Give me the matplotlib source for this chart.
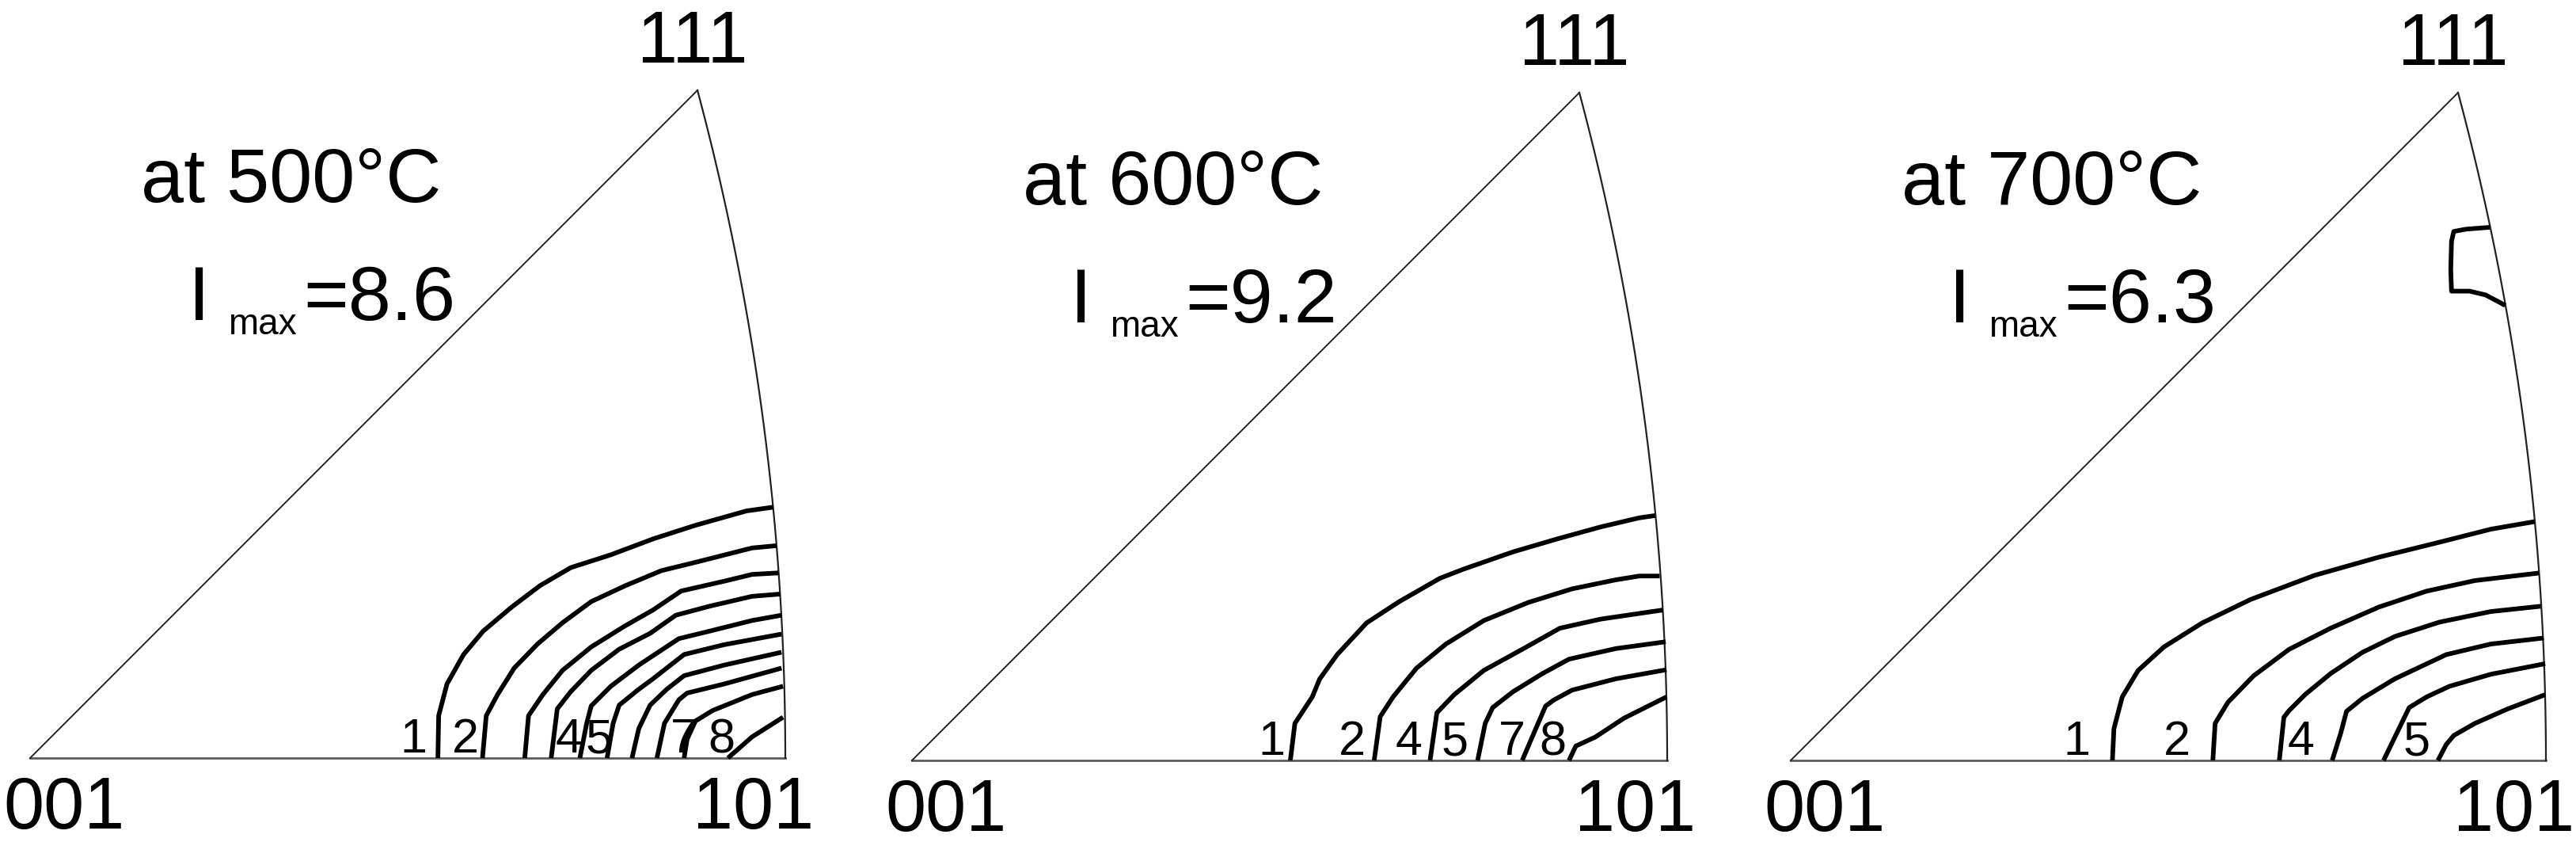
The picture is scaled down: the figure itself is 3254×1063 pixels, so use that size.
import numpy as np
from matplotlib import pyplot as plt

plt.rcParams['font.family'] = ['Liberation Sans', 'DejaVu Sans']

# panel headers
temps = ['500', '600', '700']
imax = ['8.6', '9.2', '6.3']

# contour lines, coordinates as fraction of the 001-101 edge (u along base, v up)
c500 = [
    ([0.540, 0.541, 0.552, 0.574, 0.600, 0.638, 0.675, 0.716, 0.769, 0.825, 0.881, 0.9485, 0.984],
     [0.000, 0.056, 0.098, 0.137, 0.168, 0.200, 0.228, 0.252, 0.269, 0.290, 0.308, 0.327, 0.332]),
    ([0.599, 0.604, 0.619, 0.641, 0.672, 0.705, 0.743, 0.788, 0.836, 0.881, 0.956, 0.988],
     [0.000, 0.056, 0.084, 0.119, 0.151, 0.179, 0.207, 0.228, 0.248, 0.259, 0.278, 0.281]),
    ([0.655, 0.660, 0.679, 0.705, 0.743, 0.788, 0.825, 0.862, 0.919, 0.956, 0.991],
     [0.000, 0.056, 0.084, 0.116, 0.147, 0.175, 0.196, 0.221, 0.234, 0.243, 0.245]),
    ([0.690, 0.698, 0.716, 0.743, 0.780, 0.821, 0.855, 0.900, 0.956, 0.993],
     [0.000, 0.065, 0.088, 0.116, 0.144, 0.165, 0.189, 0.201, 0.214, 0.217]),
    ([0.728, 0.737, 0.743, 0.769, 0.806, 0.859, 0.900, 0.956, 0.995],
     [0.000, 0.046, 0.069, 0.095, 0.123, 0.158, 0.168, 0.182, 0.189]),
    ([0.764, 0.772, 0.780, 0.806, 0.825, 0.866, 0.919, 0.995],
     [0.000, 0.046, 0.070, 0.091, 0.105, 0.137, 0.150, 0.164]),
    ([0.797, 0.806, 0.821, 0.843, 0.866, 0.919, 0.995],
     [0.000, 0.039, 0.070, 0.091, 0.109, 0.123, 0.140]),
    ([0.830, 0.840, 0.859, 0.870, 0.919, 0.995],
     [0.000, 0.046, 0.077, 0.086, 0.098, 0.119]),
    ([0.866, 0.870, 0.881, 0.904, 0.956, 0.997],
     [0.000, 0.025, 0.049, 0.063, 0.084, 0.095]),
    ([0.924, 0.956, 0.997],
     [0.000, 0.028, 0.054]),
]

c600 = [
    ([0.501, 0.507, 0.530, 0.540, 0.563, 0.602, 0.645, 0.699, 0.730, 0.796, 0.854, 0.912, 0.963, 0.984],
     [0.000, 0.049, 0.084, 0.108, 0.140, 0.182, 0.210, 0.241, 0.253, 0.276, 0.293, 0.309, 0.321, 0.324]),
    ([0.612, 0.620, 0.637, 0.668, 0.707, 0.757, 0.816, 0.874, 0.932, 0.963, 0.990],
     [0.000, 0.058, 0.084, 0.122, 0.154, 0.185, 0.209, 0.227, 0.239, 0.244, 0.244]),
    ([0.686, 0.695, 0.718, 0.757, 0.808, 0.858, 0.912, 0.994],
     [0.000, 0.063, 0.087, 0.119, 0.147, 0.175, 0.187, 0.199]),
    ([0.749, 0.759, 0.769, 0.796, 0.835, 0.870, 0.932, 0.998],
     [0.000, 0.049, 0.070, 0.091, 0.115, 0.134, 0.148, 0.157]),
    ([0.808, 0.823, 0.839, 0.850, 0.874, 0.932, 0.999],
     [0.000, 0.035, 0.072, 0.080, 0.093, 0.108, 0.120]),
    ([0.870, 0.879, 0.905, 0.943, 0.999],
     [0.000, 0.019, 0.031, 0.056, 0.084]),
]

c700 = [
    ([0.426, 0.428, 0.439, 0.460, 0.494, 0.545, 0.609, 0.694, 0.779, 0.864, 0.927, 0.985],
     [0.000, 0.042, 0.084, 0.119, 0.150, 0.182, 0.213, 0.245, 0.269, 0.290, 0.306, 0.316]),
    ([0.559, 0.562, 0.579, 0.613, 0.660, 0.715, 0.779, 0.842, 0.906, 0.991],
     [0.000, 0.049, 0.077, 0.112, 0.147, 0.175, 0.203, 0.224, 0.238, 0.248]),
    ([0.647, 0.653, 0.660, 0.681, 0.715, 0.757, 0.800, 0.859, 0.927, 0.993],
     [0.000, 0.057, 0.066, 0.087, 0.115, 0.143, 0.164, 0.183, 0.197, 0.204]),
    ([0.717, 0.728, 0.736, 0.757, 0.800, 0.868, 0.927, 0.997],
     [0.000, 0.035, 0.065, 0.082, 0.108, 0.140, 0.154, 0.162]),
    ([0.785, 0.802, 0.819, 0.842, 0.872, 0.927, 0.999],
     [0.000, 0.035, 0.070, 0.084, 0.098, 0.114, 0.128]),
    ([0.857, 0.868, 0.878, 0.906, 0.949, 0.999],
     [0.000, 0.021, 0.033, 0.049, 0.068, 0.087]),
    # small closed-off region near 111-101 edge
    ([0.926, 0.894, 0.878, 0.875, 0.874, 0.875, 0.899, 0.920, 0.939, 0.946],
     [0.7055, 0.703, 0.700, 0.687, 0.650, 0.621, 0.621, 0.616, 0.606, 0.602]),
]
contours = [c500, c600, c700]

# contour level labels
lab_text = [['1', '2', '4', '5', '7', '8'],
            ['1', '2', '4', '5', '7', '8'],
            ['1', '2', '4', '5']]
lab_u = [[0.508, 0.576, 0.713, 0.753, 0.866, 0.915],
         [0.476, 0.583, 0.658, 0.719, 0.794, 0.848],
         [0.379, 0.511, 0.676, 0.829]]

# panel placement in pixels: 001 corner x, baseline y
W, H = 3255, 1063
x0 = [38, 1152, 2262]
yb = [957, 960, 960]
base = 954

# 111 pole in units of the 001-101 edge (stereographic projection)
apex = (np.sqrt(3) - 1) / (2 * (np.sqrt(2) - 1))
# 111-101 great circle
R = 2 + np.sqrt(2)
cx = -(1 + np.sqrt(2))

fig = plt.figure(figsize=(W / 100, H / 100), dpi=100)

for i in range(3):
    ax = fig.add_axes([x0[i] / W, (H - yb[i]) / H, base / W, base * apex / H])
    ax.set_xlim(0, 1)
    ax.set_ylim(0, apex)
    ax.axis('off')

    # standard triangle
    ax.plot([0, 1], [0, 0], color='#555555', lw=1.9, clip_on=False)
    ax.plot([0, apex], [0, apex], color='#222222', lw=1.4, clip_on=False)
    th = np.linspace(0, np.arctan2(apex, apex - cx), 100)
    ax.plot(cx + R * np.cos(th), R * np.sin(th), color='#222222', lw=1.6, clip_on=False)

    for u, v in contours[i]:
        ax.plot(u, v, color='black', lw=4.2, solid_joinstyle='round',
                solid_capstyle='butt', clip_on=False)

    for t, u in zip(lab_text[i], lab_u[i]):
        ax.text(u, 0.007, t, fontsize=44, ha='center', va='baseline')

    ax.text(0.045, -0.093, '001', fontsize=66, ha='center', va='baseline')
    ax.text(0.958, -0.093, '101', fontsize=66, ha='center', va='baseline')
    ax.text(0.877, 0.92, '111', fontsize=66, ha='center', va='baseline')

    ax.text(0.1468, 0.736, 'at ' + temps[i] + '°C', fontsize=70, ha='left', va='baseline')
    ax.text(0.2096, 0.580, 'I', fontsize=70, ha='left', va='baseline')
    ax.text(0.262, 0.561, 'max', fontsize=33, ha='left', va='baseline')
    ax.text(0.3616, 0.580, '=' + imax[i], fontsize=70, ha='left', va='baseline')

plt.savefig('out.png', dpi=100)
